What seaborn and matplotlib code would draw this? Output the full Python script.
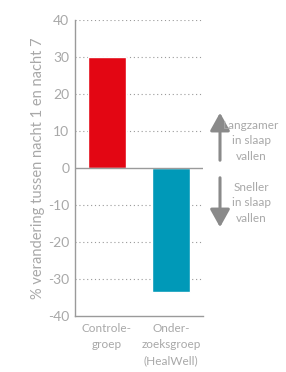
import matplotlib
matplotlib.use("Agg")
import matplotlib.pyplot as plt
import seaborn as sns
import pandas as pd

groups = ["Controle-\ngroep", "Onder-\nzoeksgroep\n(HealWell)"]
change = [30, -33.5]
bar_colors = ["#e30613", "#0099b8"]
yticks = [-40, -30, -20, -10, 0, 10, 20, 30, 40]

sns.set_theme(style="white")
plt.rcParams["font.family"] = ["Lato", "DejaVu Sans"]
gray = "#a8a8a8"

df = pd.DataFrame({"groep": groups, "verandering": change})

fig = plt.figure(figsize=(2.86, 3.72), dpi=100)
ax = fig.add_axes([0.262, 0.1505, 0.448, 0.7955])

sns.barplot(data=df, x="groep", y="verandering", hue="groep", palette=bar_colors,
            width=0.6, legend=False, ax=ax, saturation=1)

ax.set_ylim(-40, 40)
ax.set_xlim(-0.5, 1.5)
ax.set_yticks(yticks)
ax.set_yticklabels([str(t) for t in yticks], color=gray, fontsize=10)
ax.tick_params(axis="y", length=3, color=gray, width=0.8, pad=1)
ax.set_xticks([0, 1])
ax.set_xticklabels(groups, fontsize=8.5, color=gray)
for lbl in ax.get_xticklabels():
    lbl.set_linespacing(1.55)
ax.tick_params(axis="x", length=0, pad=5)
ax.set_xticks([0.5], minor=True)
ax.tick_params(axis="x", which="minor", length=2.5, color=gray, width=0.8)
ax.set_xlabel("")
ax.set_ylabel("% verandering tussen nacht 1 en nacht 7", color=gray, fontsize=10.5, labelpad=2)

for t in yticks:
    if t in (0, -40):
        continue
    ax.axhline(t, color="#9a9a9a", linestyle=(0, (1, 2.5)), linewidth=0.8, zorder=0)
ax.axhline(0, color="#9a9a9a", linewidth=1, zorder=3)

for s in ["top", "right"]:
    ax.spines[s].set_visible(False)
for s in ["left", "bottom"]:
    ax.spines[s].set_color("#9a9a9a")
    ax.spines[s].set_linewidth(1)

arrow_c = "#8a8a8a"
akw = dict(arrowstyle="-|>,head_length=0.9,head_width=0.5", color=arrow_c, lw=2.2)
ax.annotate("", xy=(220 / 286, 1 - 110 / 372), xytext=(220 / 286, 1 - 163 / 372),
            xycoords="figure fraction", textcoords="figure fraction", arrowprops=akw)
ax.annotate("", xy=(220 / 286, 1 - 230 / 372), xytext=(220 / 286, 1 - 175 / 372),
            xycoords="figure fraction", textcoords="figure fraction", arrowprops=akw)

fig.text(251 / 286, 1 - 141 / 372, "Langzamer\nin slaap\nvallen", ha="center", va="center",
         color=gray, fontsize=8.5, linespacing=1.5)
fig.text(251 / 286, 1 - 203 / 372, "Sneller\nin slaap\nvallen", ha="center", va="center",
         color=gray, fontsize=8.5, linespacing=1.5)

fig.savefig("out.png", dpi=100)
